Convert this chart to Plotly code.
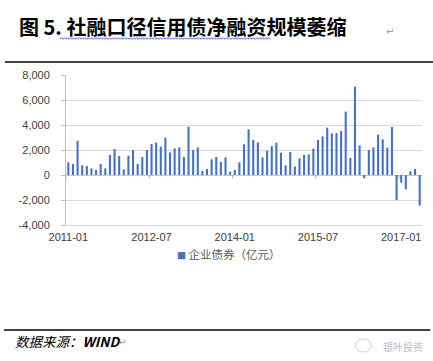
import plotly.graph_objects as go
import pandas as pd

# ---- data ----
months = pd.date_range("2011-01-01", periods=77, freq="MS").strftime("%Y-%m").tolist()
values = [
    1010, 880, 2720, 770, 720, 530, 400, 880, 530, 1600, 2080, 1520,      # 2011
    450, 1550, 2000, 880, 1440, 2000, 2480, 2590, 2270, 2990, 1810, 2130,   # 2012
    2210, 1440, 3870, 2000, 2210, 320, 480, 1250, 1440, 1040, 1410, 270,    # 2013
    400, 1010, 2450, 3650, 2800, 2610, 1410, 1950, 2320, 2590, 1790, 770,   # 2014
    1840, 690, 1330, 1600, 1650, 2110, 2800, 3090, 3790, 3330, 3360, 3520,  # 2015
    5070, 1360, 7070, 2370, -270, 2000, 2210, 3230, 2850, 2190, 3840, -2000,  # 2016
    -610, -1150, 290, 480, -2450,                                           # 2017
]
x_tick_labels = ["2011-01", "2012-07", "2014-01", "2015-07", "2017-01"]
y_tick_values = [-4000, -2000, 0, 2000, 4000, 6000, 8000]
y_tick_text = ["-4,000", "-2,000", "0", "2,000", "4,000", "6,000", "8,000"]
series_name = "企业债券（亿元）"
title_text = "图 5. 社融口径信用债净融资规模萎缩"
source_text = "数据来源：<b>WIND</b>"
watermark_text = "银叶投资"

BAR = "#4472C4"
GRID = "#d9d9d9"
TXT = "#404040"
NUM_FONT = "Liberation Sans, Arial, sans-serif"
CJK_FONT = "Noto Sans CJK SC, sans-serif"

W, H = 433, 361
L, R, T, B = 66, 421.7, 75, 225


def xp(x):
    return (x - L) / (R - L)


def yp(y):
    return (B - y) / (B - T)


fig = go.Figure()
fig.add_trace(go.Bar(x=months, y=values, name=series_name,
                     marker=dict(color=BAR, line=dict(width=0)),
                     showlegend=False))

shapes = []
# category-boundary tick marks on the zero line
for lab in x_tick_labels:
    i = months.index(lab)
    shapes.append(dict(type="line", xref="x", yref="y", x0=i - 0.5, x1=i - 0.5,
                       y0=0, y1=-260, line=dict(color="#a6a6a6", width=1)))
# top rule and bottom rule
shapes.append(dict(type="line", xref="paper", yref="paper", x0=xp(5), x1=xp(433),
                   y0=yp(62), y1=yp(62), line=dict(color="black", width=1.3)))
shapes.append(dict(type="line", xref="paper", yref="paper", x0=xp(4), x1=xp(430),
                   y0=yp(330), y1=yp(330), line=dict(color="black", width=1.3)))
# wavy spell-check underline under title
path = "M {:.5f},{:.5f}".format(xp(60), yp(38.5))
xx = 60.0
k = 0
while xx < 270:
    xx += 1.5
    k += 1
    yy = 37.7 if k % 2 else 39.3
    path += " L {:.5f},{:.5f}".format(xp(xx), yp(yy))
shapes.append(dict(type="path", xref="paper", yref="paper", path=path,
                   line=dict(color="#3a3ad0", width=0.8)))
# small wechat-like icon outline for watermark
shapes.append(dict(type="circle", xref="paper", yref="paper",
                   x0=xp(355), x1=xp(371), y0=yp(339), y1=yp(352),
                   line=dict(color="#cfcfcf", width=1)))

annotations = [
    dict(text=title_text, x=xp(17), y=yp(27), xref="paper", yref="paper",
         xanchor="left", yanchor="middle", showarrow=False,
         font=dict(family=CJK_FONT, size=20, color="black", weight="bold")),
    dict(text="↵", x=xp(384), y=yp(31), xref="paper", yref="paper",
         xanchor="left", yanchor="middle", showarrow=False,
         font=dict(family="DejaVu Sans", size=10, color="#999999")),
    dict(text='<span style="color:%s;font-size:9px">■</span> %s' % (BAR, series_name),
         x=xp(175), y=yp(254), xref="paper", yref="paper",
         xanchor="left", yanchor="middle", showarrow=False,
         font=dict(family=CJK_FONT, size=11.5, color="#595959")),
    dict(text=source_text, x=xp(13), y=yp(341), xref="paper", yref="paper",
         xanchor="left", yanchor="middle", showarrow=False,
         font=dict(family=CJK_FONT, size=13.5, color="black", style="italic")),
    dict(text="↵", x=xp(117), y=yp(342), xref="paper", yref="paper",
         xanchor="left", yanchor="middle", showarrow=False,
         font=dict(family="DejaVu Sans", size=9, color="#999999")),
    dict(text=watermark_text, x=xp(381), y=yp(346), xref="paper", yref="paper",
         xanchor="left", yanchor="middle", showarrow=False,
         font=dict(family=CJK_FONT, size=10, color="#bdbdbd")),
]

fig.update_layout(
    width=W, height=H,
    margin=dict(l=L, r=W - R, t=T, b=H - B, pad=0),
    paper_bgcolor="white", plot_bgcolor="white",
    bargap=0.55,
    shapes=shapes, annotations=annotations,
    xaxis=dict(type="category", range=[-0.5, len(months) - 0.5],
               tickmode="array", tickvals=x_tick_labels, ticktext=x_tick_labels,
               showgrid=False, zeroline=False, showline=True, linecolor=GRID,
               linewidth=1, ticks="", tickangle=0,
               ticklabelstandoff=2,
               tickfont=dict(family=NUM_FONT, size=11, color=TXT)),
    yaxis=dict(range=[-4000, 8000], tickmode="array", tickvals=y_tick_values,
               ticktext=y_tick_text, showgrid=True, gridcolor=GRID, gridwidth=1,
               zeroline=True, zerolinecolor="#c8c8c8", zerolinewidth=1,
               showline=True, linecolor="#bfbfbf", linewidth=1,
               ticks="outside", ticklen=4, tickcolor="#bfbfbf",
               ticklabelstandoff=9,
               tickfont=dict(family=NUM_FONT, size=11, color=TXT)),
    showlegend=False,
)

fig.write_html("out.html",
               config={"displayModeBar": False},
               post_script="document.body.style.margin='0';document.body.style.padding='0';")
